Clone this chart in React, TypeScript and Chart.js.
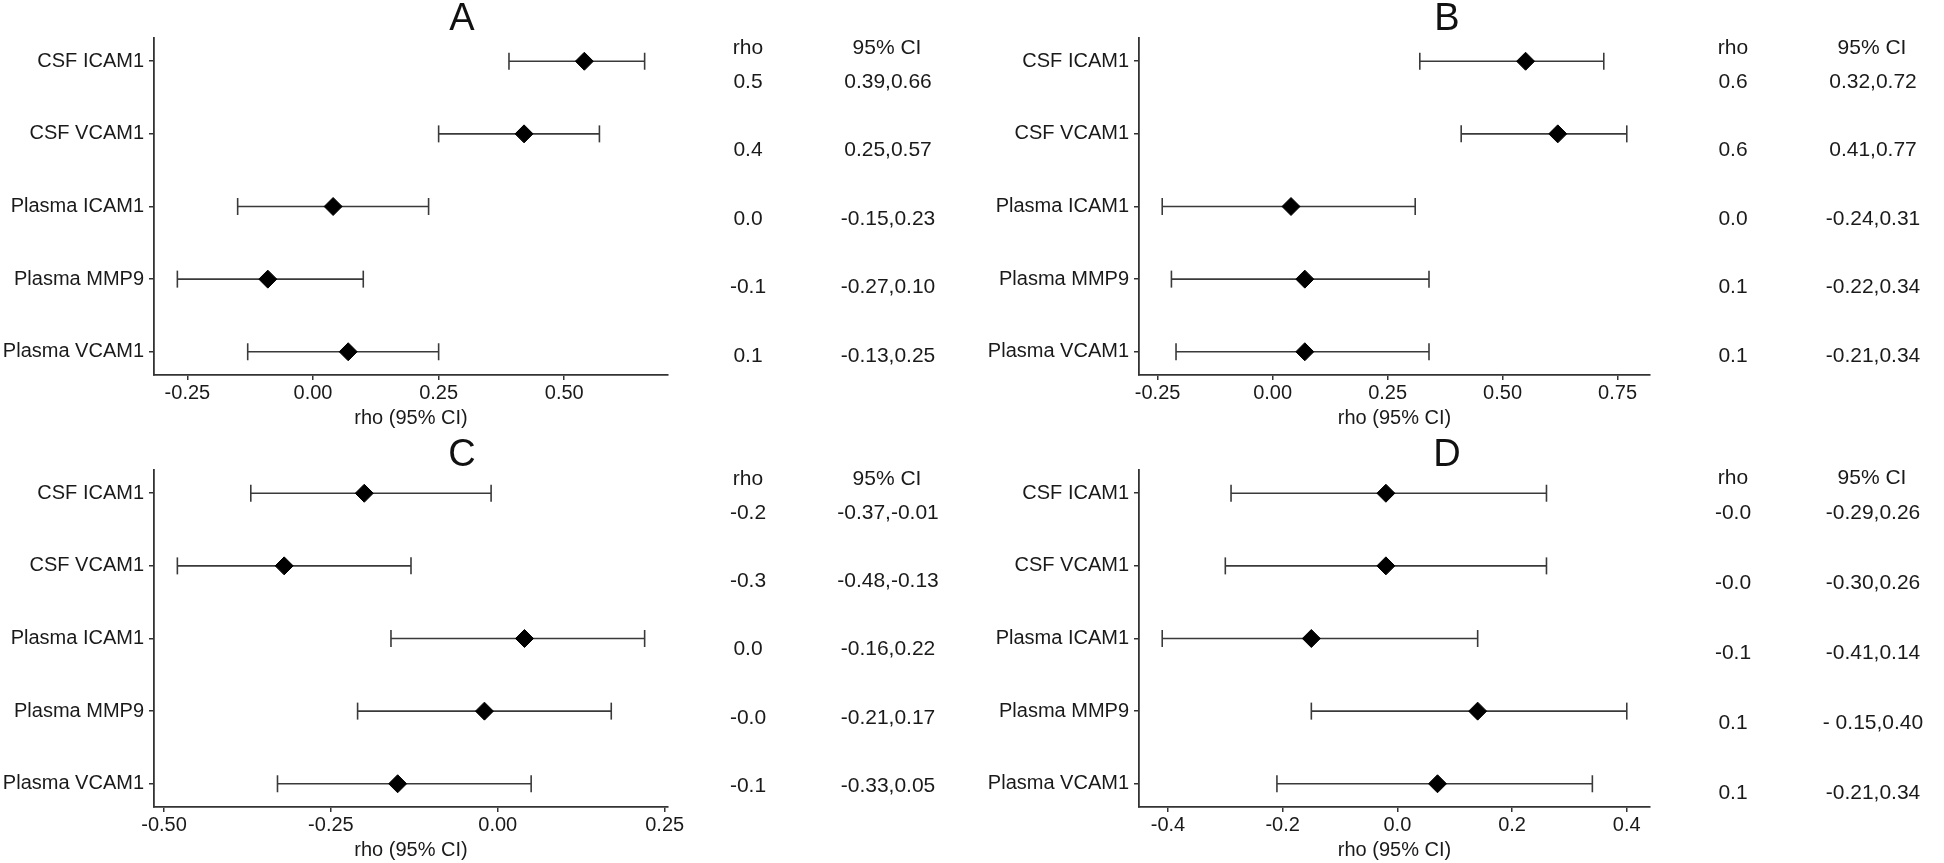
import React, { useEffect, useRef } from "react";
import { Chart, registerables } from "chart.js";

Chart.register(...registerables);

// ---------- DATA ----------
const categories = ["CSF ICAM1", "CSF VCAM1", "Plasma ICAM1", "Plasma MMP9", "Plasma VCAM1"];

const rhoA = [0.54, 0.42, 0.04, -0.09, 0.07];
const lowA = [0.39, 0.25, -0.15, -0.27, -0.13];
const highA = [0.66, 0.57, 0.23, 0.1, 0.25];
const rhoTextA = ["0.5", "0.4", "0.0", "-0.1", "0.1"];
const ciTextA = ["0.39,0.66", "0.25,0.57", "-0.15,0.23", "-0.27,0.10", "-0.13,0.25"];
const ticksA = [-0.25, 0, 0.25, 0.5];
const tickLabelsA = ["-0.25", "0.00", "0.25", "0.50"];

const rhoB = [0.55, 0.62, 0.04, 0.07, 0.07];
const lowB = [0.32, 0.41, -0.24, -0.22, -0.21];
const highB = [0.72, 0.77, 0.31, 0.34, 0.34];
const rhoTextB = ["0.6", "0.6", "0.0", "0.1", "0.1"];
const ciTextB = ["0.32,0.72", "0.41,0.77", "-0.24,0.31", "-0.22,0.34", "-0.21,0.34"];
const ticksB = [-0.25, 0, 0.25, 0.5, 0.75];
const tickLabelsB = ["-0.25", "0.00", "0.25", "0.50", "0.75"];

const rhoC = [-0.2, -0.32, 0.04, -0.02, -0.15];
const lowC = [-0.37, -0.48, -0.16, -0.21, -0.33];
const highC = [-0.01, -0.13, 0.22, 0.17, 0.05];
const rhoTextC = ["-0.2", "-0.3", "0.0", "-0.0", "-0.1"];
const ciTextC = ["-0.37,-0.01", "-0.48,-0.13", "-0.16,0.22", "-0.21,0.17", "-0.33,0.05"];
const ticksC = [-0.5, -0.25, 0, 0.25];
const tickLabelsC = ["-0.50", "-0.25", "0.00", "0.25"];

const rhoD = [-0.02, -0.02, -0.15, 0.14, 0.07];
const lowD = [-0.29, -0.3, -0.41, -0.15, -0.21];
const highD = [0.26, 0.26, 0.14, 0.4, 0.34];
const rhoTextD = ["-0.0", "-0.0", "-0.1", "0.1", "0.1"];
const ciTextD = ["-0.29,0.26", "-0.30,0.26", "-0.41,0.14", "- 0.15,0.40", "-0.21,0.34"];
const ticksD = [-0.4, -0.2, 0, 0.2, 0.4];
const tickLabelsD = ["-0.4", "-0.2", "0.0", "0.2", "0.4"];

// ---------- STYLE / LAYOUT ----------
const FONT_FAMILY = '"Liberation Sans", Arial, Helvetica, sans-serif';
const TEXT_COLOR = "#1a1a1a";
const AXIS_COLOR = "#333333";
const BAR_COLOR = "#3a3a3a";
const PLOT_TOP = 38;
const PLOT_BOTTOM = 375;
const Y_AXIS_WIDTH = 154;

type Panel = {
  title: string;
  left: number;
  top: number;
  width: number;
  height: number;
  plotRight: number;
  titleY: number;
  headerY: number;
  rowY0: number;
  rowStep: number;
  rho: number[];
  low: number[];
  high: number[];
  rhoText: string[];
  ciText: string[];
  ticks: number[];
  tickLabels: string[];
};

const panels: Panel[] = [
  { title: "A", left: 0, top: 0, width: 985, height: 432, plotRight: 668, titleY: 20, headerY: 48, rowY0: 82, rowStep: 68.5,
    rho: rhoA, low: lowA, high: highA, rhoText: rhoTextA, ciText: ciTextA, ticks: ticksA, tickLabels: tickLabelsA },
  { title: "B", left: 985, top: 0, width: 959, height: 432, plotRight: 665, titleY: 20, headerY: 48, rowY0: 82, rowStep: 68.5,
    rho: rhoB, low: lowB, high: highB, rhoText: rhoTextB, ciText: ciTextB, ticks: ticksB, tickLabels: tickLabelsB },
  { title: "C", left: 0, top: 432, width: 985, height: 431, plotRight: 668, titleY: 24, headerY: 47, rowY0: 81, rowStep: 68.3,
    rho: rhoC, low: lowC, high: highC, rhoText: rhoTextC, ciText: ciTextC, ticks: ticksC, tickLabels: tickLabelsC },
  { title: "D", left: 985, top: 432, width: 959, height: 431, plotRight: 665, titleY: 24, headerY: 46, rowY0: 81.3, rowStep: 70,
    rho: rhoD, low: lowD, high: highD, rhoText: rhoTextD, ciText: ciTextD, ticks: ticksD, tickLabels: tickLabelsD },
];

function makeDecor(p: Panel) {
  return {
    id: "decor" + p.title,
    afterDraw(chart: any) {
      const ctx = chart.ctx;
      ctx.save();
      ctx.fillStyle = "#111";
      ctx.textAlign = "center";
      ctx.textBaseline = "middle";
      ctx.font = `38px ${FONT_FAMILY}`;
      ctx.fillText(p.title, 462, p.titleY);
      ctx.fillStyle = TEXT_COLOR;
      ctx.font = `21px ${FONT_FAMILY}`;
      ctx.fillText("rho", 748, p.headerY);
      ctx.fillText("95% CI", 887, p.headerY);
      p.rhoText.forEach((t, i) => {
        const y = p.rowY0 + i * p.rowStep;
        ctx.fillText(t, 748, y);
        ctx.fillText(p.ciText[i], 888, y);
      });
      ctx.restore();
    },
  };
}

function PanelChart({ p }: { p: Panel }) {
  const ref = useRef<HTMLCanvasElement | null>(null);
  useEffect(() => {
    if (!ref.current) return;
    const dMin = Math.min(...p.low);
    const dMax = Math.max(...p.high);
    const pad = 0.05 * (dMax - dMin);
    const font = { family: FONT_FAMILY, size: 20 };

    const barSets = categories.map((_, i) => ({
      type: "scatter" as const,
      data: [
        { x: p.low[i], y: i },
        { x: p.high[i], y: i },
      ],
      showLine: true,
      borderColor: BAR_COLOR,
      borderWidth: 1.6,
      pointStyle: "line" as const,
      pointRotation: 90,
      pointRadius: 8.5,
      pointBorderWidth: 1.6,
      pointBorderColor: BAR_COLOR,
      pointBackgroundColor: BAR_COLOR,
      clip: false as any,
      order: 2,
    }));

    const pointSet = {
      type: "scatter" as const,
      data: p.rho.map((v, i) => ({ x: v, y: i })),
      pointStyle: "rectRot" as const,
      pointRadius: 9,
      pointBorderWidth: 1,
      pointBackgroundColor: "#000",
      pointBorderColor: "#000",
      clip: false as any,
      order: 0,
    };

    const chart = new Chart(ref.current, {
      type: "scatter",
      data: { datasets: [pointSet, ...barSets] as any },
      options: {
        responsive: false,
        animation: false,
        events: [],
        layout: { padding: { top: PLOT_TOP, right: p.width - p.plotRight, bottom: 0, left: 0 } },
        plugins: { legend: { display: false }, tooltip: { enabled: false } },
        scales: {
          x: {
            type: "linear",
            min: dMin - pad,
            max: dMax + pad,
            bounds: "data",
            afterBuildTicks: (s: any) => {
              s.ticks = p.ticks.map((v) => ({ value: v }));
            },
            afterFit: (s: any) => {
              s.height = p.height - PLOT_BOTTOM;
            },
            ticks: {
              callback: (_v: any, i: number) => p.tickLabels[i],
              font,
              color: TEXT_COLOR,
              padding: 1,
              maxRotation: 0,
              autoSkip: false,
            },
            grid: { drawOnChartArea: false, drawTicks: true, tickLength: 5, color: AXIS_COLOR, lineWidth: 1.5 },
            border: { display: true, color: AXIS_COLOR, width: 1.8 },
            title: {
              display: true,
              text: "rho (95% CI)",
              font,
              color: TEXT_COLOR,
              padding: { top: 0, bottom: p.height - 430 },
            },
          },
          y: {
            type: "linear",
            reverse: true,
            min: -0.32,
            max: 4.32,
            bounds: "data",
            afterBuildTicks: (s: any) => {
              s.ticks = categories.map((_, i) => ({ value: i }));
            },
            afterFit: (s: any) => {
              s.width = Y_AXIS_WIDTH;
            },
            ticks: {
              callback: (_v: any, i: number) => categories[i],
              font,
              color: TEXT_COLOR,
              padding: 5,
              autoSkip: false,
            },
            grid: { drawOnChartArea: false, drawTicks: true, tickLength: 5, color: AXIS_COLOR, lineWidth: 1.5 },
            border: { display: true, color: AXIS_COLOR, width: 1.8 },
          },
        },
      } as any,
      plugins: [makeDecor(p)],
    });
    return () => chart.destroy();
  }, [p]);

  return (
    <canvas
      ref={ref}
      width={p.width}
      height={p.height}
      style={{ position: "absolute", left: p.left, top: p.top, width: p.width, height: p.height }}
    />
  );
}

export default function App() {
  return (
    <div
      style={{
        position: "absolute",
        left: 0,
        top: 0,
        width: 1944,
        height: 863,
        background: "#ffffff",
        overflow: "hidden",
      }}
    >
      {panels.map((p) => (
        <PanelChart key={p.title} p={p} />
      ))}
    </div>
  );
}
